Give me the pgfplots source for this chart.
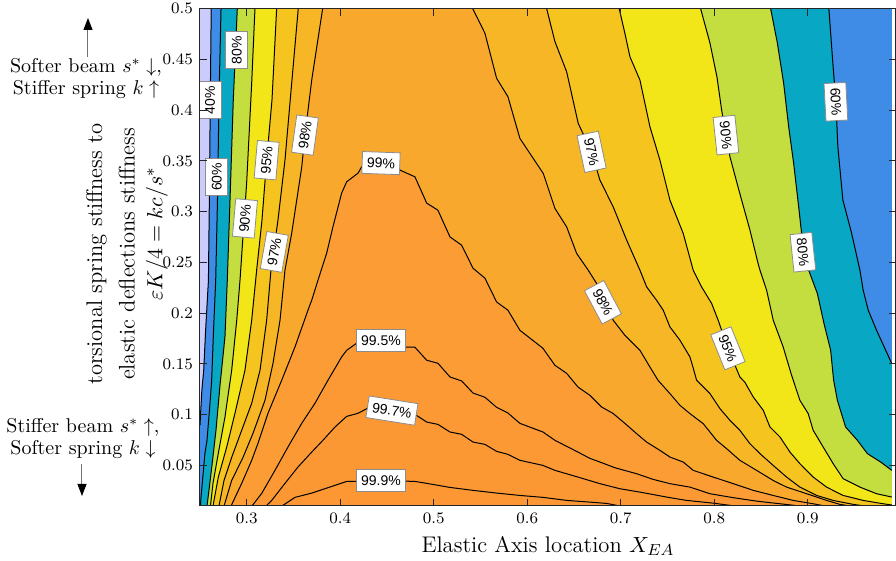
\documentclass[border=0pt]{standalone}
\usepackage{fontspec}
\newfontfamily\labfont{Liberation Sans}
\usepackage{pgfplots}
\pgfplotsset{compat=1.18}
\usetikzlibrary{arrows.meta}
\definecolor{c0}{RGB}{204,204,252}
\definecolor{c1}{RGB}{62,140,229}
\definecolor{c2}{RGB}{8,168,196}
\definecolor{c3}{RGB}{196,221,63}
\definecolor{c4}{RGB}{242,230,25}
\definecolor{c5}{RGB}{245,196,31}
\definecolor{c6}{RGB}{247,182,38}
\definecolor{c7}{RGB}{249,168,46}
\definecolor{c8}{RGB}{251,156,52}
\definecolor{c9}{RGB}{252,153,52}
\definecolor{c10}{RGB}{252,152,52}
\definecolor{c11}{RGB}{252,151,51}
\tikzset{clab/.style={draw=black!45, fill=white, line width=0.4pt, inner xsep=2.4pt, inner ysep=2.8pt,
  font=\fontsize{7}{8}\labfont, text height=5.1pt, text depth=0.2pt}}
\begin{document}
\begin{tikzpicture}
\useasboundingbox (-100pt,-27.5pt) rectangle (348pt,253pt);
\begin{axis}[
  at={(0pt,0pt)}, anchor=south west,
  scale only axis, width=348pt, height=248.7pt,
  xmin=0.25, xmax=0.9945, ymin=0.01, ymax=0.5,
  axis on top, no markers,
  tick align=inside, major tick length=3.5pt,
  xtick={0.3,0.4,0.5,0.6,0.7,0.8,0.9},
  xticklabels={$0.3$,$0.4$,$0.5$,$0.6$,$0.7$,$0.8$,$0.9$},
  ytick={0.05,0.1,0.15,0.2,0.25,0.3,0.35,0.4,0.45,0.5},
  yticklabels={$0.05$,$0.1$,$0.15$,$0.2$,$0.25$,$0.3$,$0.35$,$0.4$,$0.45$,$0.5$},
  ticklabel style={font=\fontsize{8}{9.6}\selectfont},
  axis line style={line width=0.5pt, color=black!85},
  tick style={line width=0.5pt, color=black!85},
  xlabel={Elastic Axis location $X_{EA}$},
  xlabel style={font=\fontsize{11.3}{13.5}\selectfont, at={(axis description cs:0.5,0)}, anchor=center, yshift=-20pt},
]
% filled levels
\addplot[fill=c0, draw=none] coordinates {(0.25,0.01) (0.99,0.01) (0.99,0.5) (0.25,0.5)} --cycle;
\addplot[fill=c1, draw=none] coordinates {(0.262,0.5) (0.261,0.410) (0.260,0.311) (0.259,0.232) (0.256,0.183) (0.254,0.144) (0.252,0.124) (0.2505,0.099) (0.25,0.0895) (0.25,0.01) (0.99,0.01) (0.99,0.5)} --cycle;
\addplot[fill=c2, draw=none] coordinates {(0.2725,0.5) (0.2703,0.4099) (0.2687,0.3113) (0.2668,0.2324) (0.2642,0.1765) (0.2625,0.1339) (0.2607,0.1112) (0.2575,0.0747) (0.2553,0.0619) (0.2532,0.0402) (0.2511,0.0187) (0.2505,0.01)
 (0.99,0.01)
 (0.99,0.1503) (0.9737,0.1831) (0.9648,0.2029) (0.9594,0.2226) (0.9559,0.2423) (0.9470,0.2788) (0.9377,0.3113) (0.9323,0.3638) (0.9302,0.4082) (0.9267,0.4493) (0.9227,0.5)} --cycle;
\addplot[fill=c3, draw=none] coordinates {(0.2899,0.5) (0.2856,0.4099) (0.2821,0.3113) (0.2792,0.2324) (0.2767,0.1765) (0.2714,0.1289) (0.2671,0.0846) (0.2628,0.0500) (0.2596,0.0254) (0.2575,0.01)
 (0.99,0.01)
 (0.99,0.0451) (0.9781,0.0533) (0.9639,0.0616) (0.9532,0.0747) (0.9406,0.0878) (0.9318,0.1141) (0.9278,0.1339) (0.9246,0.1634) (0.9175,0.1897) (0.9104,0.2193) (0.9011,0.2423) (0.8958,0.2600) (0.8904,0.3047) (0.8850,0.3478) (0.8797,0.3836) (0.8743,0.4267) (0.8676,0.4661) (0.8604,0.5)} --cycle;
\addplot[fill=c4, draw=none] coordinates {(0.3088,0.5) (0.3053,0.4267) (0.2999,0.3281) (0.2928,0.2324) (0.2893,0.1930) (0.2839,0.1437) (0.2767,0.0976) (0.2696,0.0619) (0.2639,0.0323) (0.2612,0.01)
 (0.99,0.01)
 (0.99,0.0188) (0.9737,0.0221) (0.9559,0.0286) (0.9380,0.0369) (0.9273,0.0517) (0.9166,0.0681) (0.9059,0.0846) (0.9006,0.1010) (0.8917,0.1141) (0.8828,0.1388) (0.8738,0.1667) (0.8632,0.1930) (0.8561,0.2226) (0.8490,0.2423) (0.8469,0.2492) (0.8383,0.2817) (0.8294,0.3113) (0.8255,0.3244) (0.8169,0.3540) (0.8126,0.3754) (0.8080,0.4000) (0.8030,0.4326) (0.7955,0.4661) (0.7855,0.5)} --cycle;
\addplot[fill=c5, draw=none] coordinates {(0.3320,0.5) (0.3270,0.4099) (0.3213,0.3507) (0.3163,0.2916) (0.3106,0.2423) (0.3053,0.1930) (0.2981,0.1437) (0.2874,0.1013) (0.2786,0.0681) (0.2696,0.0385) (0.2639,0.01)
 (0.99,0.01)
 (0.99,0.011) (0.9808,0.0122) (0.9594,0.0155) (0.9380,0.0204) (0.9203,0.0286) (0.9059,0.0385) (0.8917,0.0517) (0.8811,0.0631) (0.8704,0.0780) (0.8597,0.0878) (0.8525,0.1043) (0.8418,0.1174) (0.8329,0.1319) (0.8275,0.1371) (0.8147,0.1654) (0.8043,0.1930) (0.7973,0.2095) (0.7866,0.2258) (0.7776,0.2423) (0.7669,0.2785) (0.7527,0.3113) (0.7420,0.3507) (0.7313,0.3836) (0.7206,0.4296) (0.7099,0.4526) (0.7045,0.4757) (0.6984,0.5)} --cycle;
\addplot[fill=c6, draw=none] coordinates {(0.3551,0.5) (0.3481,0.4267) (0.3409,0.3507) (0.3334,0.2916) (0.3259,0.2423) (0.3213,0.1930) (0.3142,0.1437) (0.3053,0.1112) (0.2946,0.0846) (0.2839,0.0579) (0.2757,0.0352) (0.2703,0.01)
 (0.9612,0.01) (0.9487,0.0116) (0.9273,0.0155) (0.9096,0.0204) (0.8917,0.0286) (0.8775,0.0385) (0.8631,0.0500) (0.8490,0.0616) (0.8382,0.0714) (0.8275,0.0846) (0.8169,0.0944) (0.8062,0.1059) (0.7955,0.1207) (0.7812,0.1339) (0.7773,0.1469) (0.7741,0.1568) (0.7634,0.1733) (0.7527,0.1864) (0.7455,0.2029) (0.7384,0.2127) (0.7278,0.2258) (0.7206,0.2423) (0.7064,0.2719) (0.6920,0.3047) (0.6778,0.3310) (0.6689,0.3589) (0.6546,0.3869) (0.6422,0.4378) (0.6297,0.4674) (0.6208,0.5)} --cycle;
\addplot[fill=c7, draw=none] coordinates {(0.3812,0.5) (0.3695,0.4296) (0.3623,0.3754) (0.3588,0.3438) (0.3481,0.2788) (0.3409,0.2423) (0.3356,0.1930) (0.3281,0.1506) (0.3195,0.1141) (0.3067,0.0816) (0.2960,0.0579) (0.2839,0.0352) (0.2757,0.01)
 (0.9452,0.01) (0.9345,0.0116) (0.9203,0.0155) (0.8989,0.0221) (0.8775,0.0286) (0.8631,0.0352) (0.8454,0.0451) (0.8275,0.0550) (0.8133,0.0665) (0.8026,0.0747) (0.7883,0.0911) (0.7741,0.1010) (0.7634,0.1092) (0.7527,0.1207) (0.7399,0.1339) (0.7313,0.1469) (0.7206,0.1634) (0.7045,0.1782) (0.6920,0.1930) (0.6842,0.2127) (0.6743,0.2292) (0.6653,0.2423) (0.6529,0.2588) (0.6422,0.2850) (0.6297,0.3031) (0.6172,0.3376) (0.5922,0.3721) (0.5794,0.4132) (0.5673,0.4313) (0.5548,0.4757) (0.5417,0.5)} --cycle;
\addplot[fill=c8, draw=none] coordinates {(0.2832,0.01) (0.2946,0.0323) (0.3053,0.0550) (0.3120,0.0717) (0.3227,0.1013) (0.3374,0.1339) (0.3516,0.1667) (0.3655,0.2029) (0.3695,0.2127) (0.3762,0.2324) (0.3855,0.2591) (0.3922,0.2850) (0.4015,0.3182) (0.4069,0.3294) (0.4190,0.3379) (0.4229,0.3441) (0.4318,0.3507) (0.4586,0.3488) (0.4639,0.3409) (0.4799,0.3343) (0.4925,0.3084) (0.5045,0.3014) (0.5174,0.2751) (0.5299,0.2669) (0.5420,0.2443) (0.5548,0.2344) (0.5673,0.2110) (0.5794,0.2029) (0.5922,0.1831) (0.6168,0.1654) (0.6297,0.1486) (0.6422,0.1407) (0.6543,0.1272) (0.6671,0.1190) (0.6796,0.1075) (0.6917,0.1013) (0.7045,0.0914) (0.7170,0.0813) (0.7277,0.0730) (0.7420,0.0648) (0.7527,0.0582) (0.7669,0.0533) (0.7776,0.0451) (0.7990,0.0385) (0.8204,0.0320) (0.8418,0.0254) (0.8631,0.0204) (0.8845,0.0155) (0.9059,0.0122) (0.9184,0.01)} --cycle;
\addplot[fill=c9, draw=none] coordinates {(0.3056,0.01) (0.3160,0.0224) (0.3302,0.0451) (0.3441,0.0681) (0.3588,0.0914) (0.3730,0.1112) (0.3869,0.1339) (0.4015,0.1568) (0.4069,0.1634) (0.4190,0.1713) (0.4425,0.1733) (0.4671,0.1667) (0.4799,0.1664) (0.4925,0.1536) (0.5045,0.1506) (0.5174,0.1371) (0.5299,0.1332) (0.5420,0.1213) (0.5548,0.1171) (0.5673,0.1072) (0.5794,0.1016) (0.5922,0.0914) (0.6168,0.0829) (0.6297,0.0747) (0.6543,0.0631) (0.6671,0.0569) (0.6778,0.0533) (0.6938,0.0477) (0.7170,0.0418) (0.7348,0.0362) (0.7527,0.0320) (0.7741,0.0286) (0.7955,0.0221) (0.8204,0.0182) (0.8454,0.0148) (0.8703,0.0122) (0.8917,0.01)} --cycle;
\addplot[fill=c10, draw=none] coordinates {(0.3206,0.01) (0.3267,0.0155) (0.3409,0.0323) (0.3548,0.0484) (0.3695,0.0631) (0.3815,0.0747) (0.3944,0.0878) (0.4069,0.0983) (0.4190,0.1013) (0.4318,0.1075) (0.4553,0.1040) (0.4799,0.1003) (0.4925,0.0927) (0.5045,0.0904) (0.5174,0.0829) (0.5299,0.0806) (0.5420,0.0730) (0.5548,0.0707) (0.5673,0.0638) (0.5794,0.0609) (0.5922,0.0550) (0.6168,0.0500) (0.6297,0.0451) (0.6543,0.0385) (0.6778,0.0320) (0.6992,0.0270) (0.7206,0.0237) (0.7491,0.0188) (0.7705,0.0155) (0.7990,0.0128) (0.8222,0.01)} --cycle;
\addplot[fill=c11, draw=none] coordinates {(0.3377,0.01) (0.3516,0.0185) (0.3695,0.0227) (0.4069,0.0342) (0.4425,0.0345) (0.4692,0.0345) (0.4799,0.0342) (0.4925,0.0323) (0.5174,0.0283) (0.5420,0.0254) (0.5676,0.0227) (0.5922,0.0204) (0.6168,0.0185) (0.6425,0.0155) (0.6703,0.0136) (0.6853,0.0125) (0.6992,0.01)} --cycle;
% contour lines
\addplot[black, line width=0.5pt] coordinates {(0.262,0.5) (0.261,0.410) (0.260,0.311) (0.259,0.232) (0.256,0.183) (0.254,0.144) (0.252,0.124) (0.2505,0.099) (0.25,0.0895)};
\addplot[black, line width=0.5pt] coordinates {(0.2725,0.5) (0.2703,0.4099) (0.2687,0.3113) (0.2668,0.2324) (0.2642,0.1765) (0.2625,0.1339) (0.2607,0.1112) (0.2575,0.0747) (0.2553,0.0619) (0.2532,0.0402) (0.2511,0.0187) (0.2505,0.01)};
\addplot[black, line width=0.5pt] coordinates {(0.99,0.1503) (0.9737,0.1831) (0.9648,0.2029) (0.9594,0.2226) (0.9559,0.2423) (0.9470,0.2788) (0.9377,0.3113) (0.9323,0.3638) (0.9302,0.4082) (0.9267,0.4493) (0.9227,0.5)};
\addplot[black, line width=0.5pt] coordinates {(0.2899,0.5) (0.2856,0.4099) (0.2821,0.3113) (0.2792,0.2324) (0.2767,0.1765) (0.2714,0.1289) (0.2671,0.0846) (0.2628,0.0500) (0.2596,0.0254) (0.2575,0.01)};
\addplot[black, line width=0.5pt] coordinates {(0.99,0.0451) (0.9781,0.0533) (0.9639,0.0616) (0.9532,0.0747) (0.9406,0.0878) (0.9318,0.1141) (0.9278,0.1339) (0.9246,0.1634) (0.9175,0.1897) (0.9104,0.2193) (0.9011,0.2423) (0.8958,0.2600) (0.8904,0.3047) (0.8850,0.3478) (0.8797,0.3836) (0.8743,0.4267) (0.8676,0.4661) (0.8604,0.5)};
\addplot[black, line width=0.5pt] coordinates {(0.3088,0.5) (0.3053,0.4267) (0.2999,0.3281) (0.2928,0.2324) (0.2893,0.1930) (0.2839,0.1437) (0.2767,0.0976) (0.2696,0.0619) (0.2639,0.0323) (0.2612,0.01)};
\addplot[black, line width=0.5pt] coordinates {(0.99,0.0188) (0.9737,0.0221) (0.9559,0.0286) (0.9380,0.0369) (0.9273,0.0517) (0.9166,0.0681) (0.9059,0.0846) (0.9006,0.1010) (0.8917,0.1141) (0.8828,0.1388) (0.8738,0.1667) (0.8632,0.1930) (0.8561,0.2226) (0.8490,0.2423) (0.8469,0.2492) (0.8383,0.2817) (0.8294,0.3113) (0.8255,0.3244) (0.8169,0.3540) (0.8126,0.3754) (0.8080,0.4000) (0.8030,0.4326) (0.7955,0.4661) (0.7855,0.5)};
\addplot[black, line width=0.5pt] coordinates {(0.3320,0.5) (0.3270,0.4099) (0.3213,0.3507) (0.3163,0.2916) (0.3106,0.2423) (0.3053,0.1930) (0.2981,0.1437) (0.2874,0.1013) (0.2786,0.0681) (0.2696,0.0385) (0.2639,0.01)};
\addplot[black, line width=0.5pt] coordinates {(0.99,0.011) (0.9808,0.0122) (0.9594,0.0155) (0.9380,0.0204) (0.9203,0.0286) (0.9059,0.0385) (0.8917,0.0517) (0.8811,0.0631) (0.8704,0.0780) (0.8597,0.0878) (0.8525,0.1043) (0.8418,0.1174) (0.8329,0.1319) (0.8275,0.1371) (0.8147,0.1654) (0.8043,0.1930) (0.7973,0.2095) (0.7866,0.2258) (0.7776,0.2423) (0.7669,0.2785) (0.7527,0.3113) (0.7420,0.3507) (0.7313,0.3836) (0.7206,0.4296) (0.7099,0.4526) (0.7045,0.4757) (0.6984,0.5)};
\addplot[black, line width=0.5pt] coordinates {(0.3551,0.5) (0.3481,0.4267) (0.3409,0.3507) (0.3334,0.2916) (0.3259,0.2423) (0.3213,0.1930) (0.3142,0.1437) (0.3053,0.1112) (0.2946,0.0846) (0.2839,0.0579) (0.2757,0.0352) (0.2703,0.01)};
\addplot[black, line width=0.5pt] coordinates {(0.9612,0.01) (0.9487,0.0116) (0.9273,0.0155) (0.9096,0.0204) (0.8917,0.0286) (0.8775,0.0385) (0.8631,0.0500) (0.8490,0.0616) (0.8382,0.0714) (0.8275,0.0846) (0.8169,0.0944) (0.8062,0.1059) (0.7955,0.1207) (0.7812,0.1339) (0.7773,0.1469) (0.7741,0.1568) (0.7634,0.1733) (0.7527,0.1864) (0.7455,0.2029) (0.7384,0.2127) (0.7278,0.2258) (0.7206,0.2423) (0.7064,0.2719) (0.6920,0.3047) (0.6778,0.3310) (0.6689,0.3589) (0.6546,0.3869) (0.6422,0.4378) (0.6297,0.4674) (0.6208,0.5)};
\addplot[black, line width=0.5pt] coordinates {(0.3812,0.5) (0.3695,0.4296) (0.3623,0.3754) (0.3588,0.3438) (0.3481,0.2788) (0.3409,0.2423) (0.3356,0.1930) (0.3281,0.1506) (0.3195,0.1141) (0.3067,0.0816) (0.2960,0.0579) (0.2839,0.0352) (0.2757,0.01)};
\addplot[black, line width=0.5pt] coordinates {(0.9452,0.01) (0.9345,0.0116) (0.9203,0.0155) (0.8989,0.0221) (0.8775,0.0286) (0.8631,0.0352) (0.8454,0.0451) (0.8275,0.0550) (0.8133,0.0665) (0.8026,0.0747) (0.7883,0.0911) (0.7741,0.1010) (0.7634,0.1092) (0.7527,0.1207) (0.7399,0.1339) (0.7313,0.1469) (0.7206,0.1634) (0.7045,0.1782) (0.6920,0.1930) (0.6842,0.2127) (0.6743,0.2292) (0.6653,0.2423) (0.6529,0.2588) (0.6422,0.2850) (0.6297,0.3031) (0.6172,0.3376) (0.5922,0.3721) (0.5794,0.4132) (0.5673,0.4313) (0.5548,0.4757) (0.5417,0.5)};
\addplot[black, line width=0.5pt] coordinates {(0.2832,0.01) (0.2946,0.0323) (0.3053,0.0550) (0.3120,0.0717) (0.3227,0.1013) (0.3374,0.1339) (0.3516,0.1667) (0.3655,0.2029) (0.3695,0.2127) (0.3762,0.2324) (0.3855,0.2591) (0.3922,0.2850) (0.4015,0.3182) (0.4069,0.3294) (0.4190,0.3379) (0.4229,0.3441) (0.4318,0.3507) (0.4586,0.3488) (0.4639,0.3409) (0.4799,0.3343) (0.4925,0.3084) (0.5045,0.3014) (0.5174,0.2751) (0.5299,0.2669) (0.5420,0.2443) (0.5548,0.2344) (0.5673,0.2110) (0.5794,0.2029) (0.5922,0.1831) (0.6168,0.1654) (0.6297,0.1486) (0.6422,0.1407) (0.6543,0.1272) (0.6671,0.1190) (0.6796,0.1075) (0.6917,0.1013) (0.7045,0.0914) (0.7170,0.0813) (0.7277,0.0730) (0.7420,0.0648) (0.7527,0.0582) (0.7669,0.0533) (0.7776,0.0451) (0.7990,0.0385) (0.8204,0.0320) (0.8418,0.0254) (0.8631,0.0204) (0.8845,0.0155) (0.9059,0.0122) (0.9184,0.01)};
\addplot[black, line width=0.5pt] coordinates {(0.3056,0.01) (0.3160,0.0224) (0.3302,0.0451) (0.3441,0.0681) (0.3588,0.0914) (0.3730,0.1112) (0.3869,0.1339) (0.4015,0.1568) (0.4069,0.1634) (0.4190,0.1713) (0.4425,0.1733) (0.4671,0.1667) (0.4799,0.1664) (0.4925,0.1536) (0.5045,0.1506) (0.5174,0.1371) (0.5299,0.1332) (0.5420,0.1213) (0.5548,0.1171) (0.5673,0.1072) (0.5794,0.1016) (0.5922,0.0914) (0.6168,0.0829) (0.6297,0.0747) (0.6543,0.0631) (0.6671,0.0569) (0.6778,0.0533) (0.6938,0.0477) (0.7170,0.0418) (0.7348,0.0362) (0.7527,0.0320) (0.7741,0.0286) (0.7955,0.0221) (0.8204,0.0182) (0.8454,0.0148) (0.8703,0.0122) (0.8917,0.01)};
\addplot[black, line width=0.5pt] coordinates {(0.3206,0.01) (0.3267,0.0155) (0.3409,0.0323) (0.3548,0.0484) (0.3695,0.0631) (0.3815,0.0747) (0.3944,0.0878) (0.4069,0.0983) (0.4190,0.1013) (0.4318,0.1075) (0.4553,0.1040) (0.4799,0.1003) (0.4925,0.0927) (0.5045,0.0904) (0.5174,0.0829) (0.5299,0.0806) (0.5420,0.0730) (0.5548,0.0707) (0.5673,0.0638) (0.5794,0.0609) (0.5922,0.0550) (0.6168,0.0500) (0.6297,0.0451) (0.6543,0.0385) (0.6778,0.0320) (0.6992,0.0270) (0.7206,0.0237) (0.7491,0.0188) (0.7705,0.0155) (0.7990,0.0128) (0.8222,0.01)};
\addplot[black, line width=0.5pt] coordinates {(0.3377,0.01) (0.3516,0.0185) (0.3695,0.0227) (0.4069,0.0342) (0.4425,0.0345) (0.4692,0.0345) (0.4799,0.0342) (0.4925,0.0323) (0.5174,0.0283) (0.5420,0.0254) (0.5676,0.0227) (0.5922,0.0204) (0.6168,0.0185) (0.6425,0.0155) (0.6703,0.0136) (0.6853,0.0125) (0.6992,0.01)};
% contour labels
\node[clab, rotate=90] at (axis cs:0.2607,0.4099) {40\%};
\node[clab, rotate=90] at (axis cs:0.2893,0.4592) {80\%};
\node[clab, rotate=90] at (axis cs:0.2679,0.3343) {60\%};
\node[clab, rotate=85] at (axis cs:0.3213,0.3507) {95\%};
\node[clab, rotate=85] at (axis cs:0.2981,0.2933) {90\%};
\node[clab, rotate=82] at (axis cs:0.3623,0.3754) {98\%};
\node[clab, rotate=80] at (axis cs:0.3295,0.2603) {97\%};
\node[clab, rotate=-2] at (axis cs:0.4436,0.3478) {99\%};
\node[clab] at (axis cs:0.4436,0.1733) {99.5\%};
\node[clab, rotate=-9] at (axis cs:0.4553,0.1040) {99.7\%};
\node[clab] at (axis cs:0.4436,0.0352) {99.9\%};
\node[clab, rotate=-78] at (axis cs:0.6689,0.3589) {97\%};
\node[clab, rotate=-62] at (axis cs:0.6810,0.2107) {98\%};
\node[clab, rotate=-68] at (axis cs:0.8147,0.1654) {95\%};
\node[clab, rotate=-84] at (axis cs:0.8126,0.3754) {90\%};
\node[clab, rotate=-84] at (axis cs:0.8949,0.2600) {80\%};
\node[clab, rotate=-87] at (axis cs:0.9302,0.4082) {60\%};
\end{axis}
% y label
\node[rotate=90, font=\fontsize{11.3}{13.5}\selectfont] at (-51.8pt,126pt) {torsional spring stiffness to};
\node[rotate=90, font=\fontsize{11.3}{13.5}\selectfont] at (-36.6pt,126pt) {elastic deflections stiffness};
\node[rotate=90, font=\fontsize{11.3}{13.5}\selectfont] at (-21.5pt,136pt) {$\varepsilon K/4 = kc/s^*$};
% annotations
\node[font=\fontsize{10}{11}\selectfont, align=center] at (-57pt,213.5pt) {Softer beam $s^*\downarrow$,\\Stiffer spring $k\uparrow$};
\node[font=\fontsize{10}{11}\selectfont, align=center] at (-58.5pt,33.5pt) {Stiffer beam $s^*\uparrow$,\\Softer spring $k\downarrow$};
\draw[black!55, line width=0.5pt, -{Triangle[length=6pt, width=4.5pt, color=black]}] (-56pt,224.5pt) -- (-56pt,244pt);
\draw[black!55, line width=0.5pt, -{Triangle[length=6pt, width=4.5pt, color=black]}] (-59pt,21pt) -- (-59pt,5pt);
\end{tikzpicture}
\end{document}
